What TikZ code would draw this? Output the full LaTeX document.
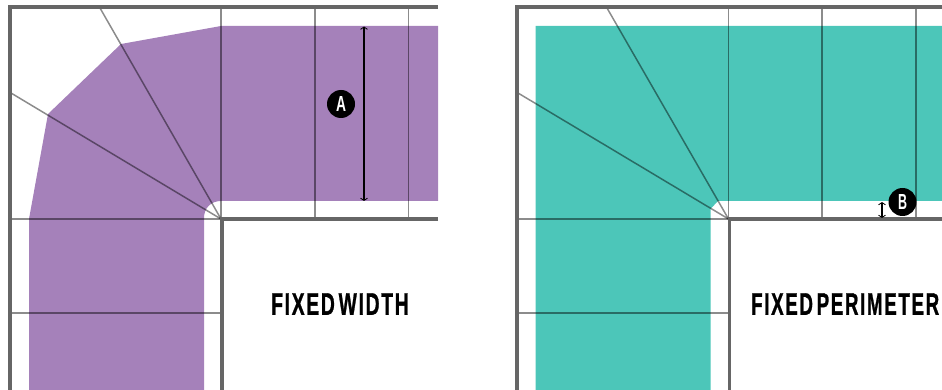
\documentclass[tikz,border=0pt]{standalone}
\usepackage{graphicx}
\usepackage{fontspec}
\setmainfont{Liberation Sans}
\newfontfamily\titlefont[LetterSpace=9,BoldFeatures={FakeBold=1.2}]{Liberation Sans}
\usetikzlibrary{arrows.meta}
\definecolor{purplefill}{HTML}{A581BA}
\definecolor{tealfill}{HTML}{4CC6B9}
\definecolor{framegray}{HTML}{666666}
\tikzset{
  framel/.style={draw=framegray,line width=3.8pt,line cap=butt,line join=miter},
  thinl/.style={draw=black,draw opacity=.45,line width=1.5pt},
  dimarrow/.style={draw=black,line width=1.1pt,{Straight Barb[length=2.4pt,width=7pt,line width=.8pt]}-{Straight Barb[length=2.4pt,width=7pt,line width=.8pt]}},
  badge/.style={circle,fill=black,minimum size=28pt,inner sep=0pt,text=white},
  title/.style={inner sep=0pt,text=black,anchor=south west}
}
\newcommand{\fittext}[3]{\resizebox{#1pt}{#2pt}{\bfseries #3}}
\newcommand{\fittitle}[3]{\resizebox{#1pt}{#2pt}{\titlefont\bfseries #3}}
\begin{document}
\begin{tikzpicture}[x=1pt,y=-1pt]
\useasboundingbox (0,0) rectangle (942,390);
\clip (0,0) rectangle (942,390);
% left panel fill
\fill[purplefill] (438,26) -- (221,26) -- (121,44) -- (48,114) -- (29,219) -- (29,390) -- (204,390) -- (204,218)
  .. controls (204,208) and (211,201) .. (221,201) -- (438,201) -- cycle;
% left panel thin lines
\coordinate (LC) at (221,219);
\draw[thinl] (LC) -- (221,7);
\draw[thinl] (315,7) -- (315,219);
\draw[thinl] (408.5,7) -- (408.5,219);
\draw[thinl] (LC) -- (100,8);
\draw[thinl] (LC) -- (11,93);
\draw[thinl] (LC) -- (10,219);
\draw[thinl] (10,313) -- (221,313);
% left panel frame
\draw[framel] (438,7) -- (10,7) -- (10,390);
\draw[framel] (438,219) -- (222,219) -- (222,390);
% dimension A
\coordinate (a1) at (364,26.5);
\coordinate (a2) at (364,201);
\draw[dimarrow] (a1) -- (a2);
\node[badge] (badgeA) at (341,104) {\fittext{10}{15}{A}};
\node[title] (titleL) at (271,315) {\fittitle{137.5}{21.5}{FIXED\hspace{.2em}WIDTH}};
% right panel fill
\fill[tealfill] (942,26) -- (535.5,26) -- (535.5,390) -- (710.5,390) -- (710.5,209) -- (718,201) -- (942,201) -- cycle;
% right panel thin lines
\coordinate (RC) at (728.5,219);
\draw[thinl] (RC) -- (728.5,7);
\draw[thinl] (822,7) -- (822,219);
\draw[thinl] (916,7) -- (916,219);
\draw[thinl] (RC) -- (607,8);
\draw[thinl] (RC) -- (518,93);
\draw[thinl] (RC) -- (517,219);
\draw[thinl] (517,313) -- (728.5,313);
% right panel frame
\draw[framel] (942,7) -- (517,7) -- (517,390);
\draw[framel] (942,219) -- (729.5,219) -- (729.5,390);
% dimension B
\coordinate (b1) at (882,202);
\coordinate (b2) at (882,218);
\draw[dimarrow] (b1) -- (b2);
\node[badge] (badgeB) at (902.5,202) {\fittext{9}{15}{B}};
\node[title] (titleR) at (751,315) {\fittitle{188}{21.5}{FIXED\hspace{.2em}PERIMETER}};
\end{tikzpicture}
\end{document}
